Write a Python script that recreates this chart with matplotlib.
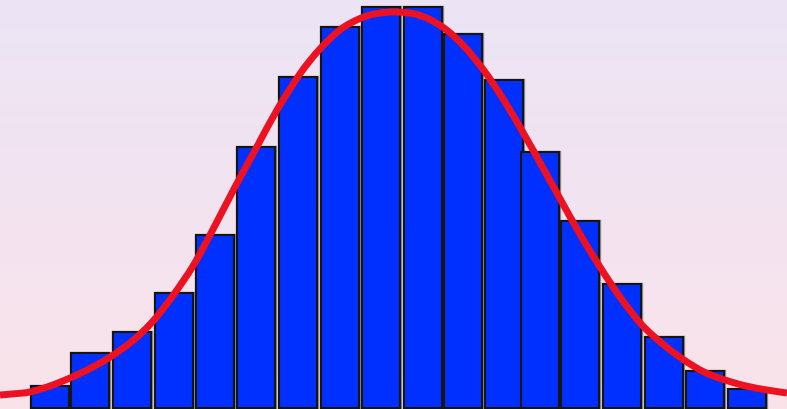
import matplotlib.pyplot as plt
import numpy as np
from matplotlib.colors import LinearSegmentedColormap
from matplotlib.path import Path
from matplotlib.patches import PathPatch

# histogram bars: centres and heights
bar_x = [50, 90.3, 132, 174, 215, 255.8, 297.7, 339.8, 380.5,
         423, 462.8, 504.3, 540.3, 580, 622, 664, 705.3, 747]
bar_h = [21.5, 54.8, 75.8, 114.2, 172.8, 260.8, 330.8, 380.8, 400.5,
         400.5, 373.2, 327.2, 255.8, 186.8, 123.2, 70.8, 36.5, 18.8]

# density curve, points
curve_x = [0, 15, 30, 50, 70, 90, 111, 133, 153, 173, 194, 215, 235, 256,
           277, 300, 319, 340, 360, 377, 397, 420, 443, 464, 484, 504,
           524, 540, 560, 580, 600, 620, 642, 664, 684, 704, 725, 746,
           767, 787]
curve_y = [12.5, 13.8, 15.5, 21.5, 29.5, 39, 51, 67, 86.4, 112, 143.2,
           182, 220.5, 259, 297.5, 333.7, 357.5, 377.7, 389, 394, 395.5,
           392.1, 380.2, 361.3, 336.9, 307.2, 273.3, 245, 208.8, 173.4,
           140.5, 110.5, 82.5, 62.5, 47.5, 35.5, 27.5, 21.5, 17.5, 14.5]


def smooth_path(xs, ys):
    # Catmull-Rom through the points, drawn as cubic Bezier segments
    p = np.column_stack([xs, ys]).astype(float)
    p = np.vstack([p[0], p, p[-1]])
    verts = [p[1]]
    codes = [Path.MOVETO]
    for i in range(1, len(p) - 2):
        c1 = p[i] + (p[i + 1] - p[i - 1]) / 6
        c2 = p[i + 1] - (p[i + 2] - p[i]) / 6
        verts += [c1, c2, p[i + 1]]
        codes += [Path.CURVE4] * 3
    return Path(verts, codes)


fig = plt.figure(figsize=(7.87, 4.09), dpi=100)
ax = fig.add_axes([0, 0, 1, 1])

xmin, xmax = 0, 787
ymin, ymax = -1.5, 407.5

# gradient background
grad = LinearSegmentedColormap.from_list(
    'bg', ['#fae4ea', '#f3e3f0', '#ece5f5'])
ax.imshow(np.linspace(0, 1, 256).reshape(-1, 1), cmap=grad, aspect='auto',
          extent=[xmin, xmax, ymin, ymax], origin='lower', zorder=0)

# soft grey halo under the bar outlines, then the bars themselves
ax.bar(bar_x, bar_h, width=38, color='#0030ff',
       edgecolor='#8a8a8a', linewidth=2.4, zorder=1.5)
ax.bar(bar_x, bar_h, width=38, color='#0030ff',
       edgecolor='#151515', linewidth=1.5, zorder=2)

ax.add_patch(PathPatch(smooth_path(curve_x, curve_y), facecolor='none',
                       edgecolor='#ee1122', linewidth=5,
                       capstyle='butt', joinstyle='round', zorder=3))

ax.set_xlim(xmin, xmax)
ax.set_ylim(ymin, ymax)
ax.axis('off')

fig.savefig('out.png', dpi=100)
